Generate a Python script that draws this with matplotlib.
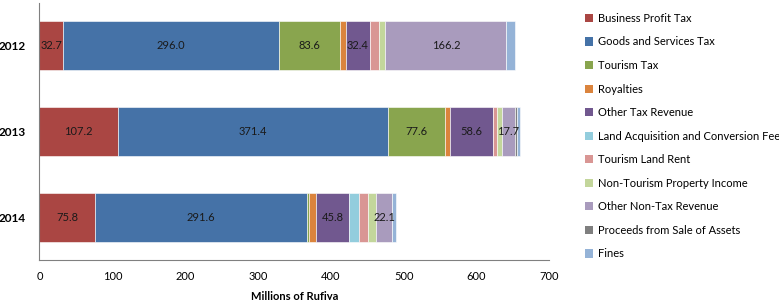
import numpy as np
import matplotlib.pyplot as plt
from matplotlib.patches import Patch

plt.rcParams['font.family'] = ['Lato', 'DejaVu Sans']

years = ['2012', '2013', '2014']
categories = ['Business Profit Tax', 'Goods and Services Tax', 'Tourism Tax', 'Royalties',
              'Other Tax Revenue', 'Land Acquisition and Conversion Fee', 'Tourism Land Rent',
              'Non-Tourism Property Income', 'Other Non-Tax Revenue',
              'Proceeds from Sale of Assets', 'Fines']

business_profit = [32.7, 107.2, 75.8]
goods_services = [296.0, 371.4, 291.6]
tourism_tax = [83.6, 77.6, 2.5]
royalties = [8.6, 7.2, 9.8]
other_tax = [32.4, 58.6, 45.8]
land_acq = [0.0, 0.0, 13.7]
tourism_land_rent = [12.9, 5.5, 12.4]
non_tourism_prop = [8.7, 7.3, 10.5]
other_non_tax = [166.2, 17.7, 22.1]
sale_assets = [0.0, 2.7, 0.0]
fines = [12.4, 4.5, 5.5]

series = [business_profit, goods_services, tourism_tax, royalties, other_tax, land_acq,
          tourism_land_rent, non_tourism_prop, other_non_tax, sale_assets, fines]
colors = ['#AA4643', '#4572A7', '#89A54E', '#DB843D', '#71588F', '#93CDDD',
          '#D99694', '#C3D69B', '#A99BBD', '#7F7F7F', '#95B3D7']

fig = plt.figure(figsize=(7.79, 3.0), dpi=100)
ax = fig.add_axes([0.0507, 0.133, 0.6545, 0.857])

y = np.arange(len(years))
left = np.zeros(len(years))
for vals, col in zip(series, colors):
    vals = np.array(vals)
    ax.barh(y, vals, left=left, height=0.57, color=col, edgecolor='white', linewidth=0.4)
    for i, v in enumerate(vals):
        if v > 15:
            ax.text(left[i] + v / 2, y[i], '%.1f' % v, ha='center', va='center',
                    fontsize=8, color='#1a1a1a')
    left += vals

ax.set_xlim(0, 700)
ax.set_ylim(2.5, -0.5)
ax.set_yticks(y)
ax.set_yticklabels(years, fontweight='bold', fontsize=8.5)
ax.set_xticks(np.arange(0, 701, 100))
ax.tick_params(axis='x', length=0, labelsize=8, pad=8)
ax.tick_params(axis='y', length=0, pad=10)
ax.spines['top'].set_visible(False)
ax.spines['right'].set_visible(False)
ax.spines['left'].set_color('#808080')
ax.spines['bottom'].set_color('#808080')
ax.set_xlabel('Millions of Rufiya', fontweight='bold', fontsize=8, labelpad=6)

handles = [Patch(facecolor=c, label=l) for c, l in zip(colors, categories)]
fig.legend(handles=handles, loc='upper left', bbox_to_anchor=(0.745, 0.972), frameon=False,
           fontsize=8, handlelength=0.75, handleheight=0.75, handletextpad=0.4,
           labelspacing=1.13, borderaxespad=0)

fig.savefig('out.png', dpi=100)
